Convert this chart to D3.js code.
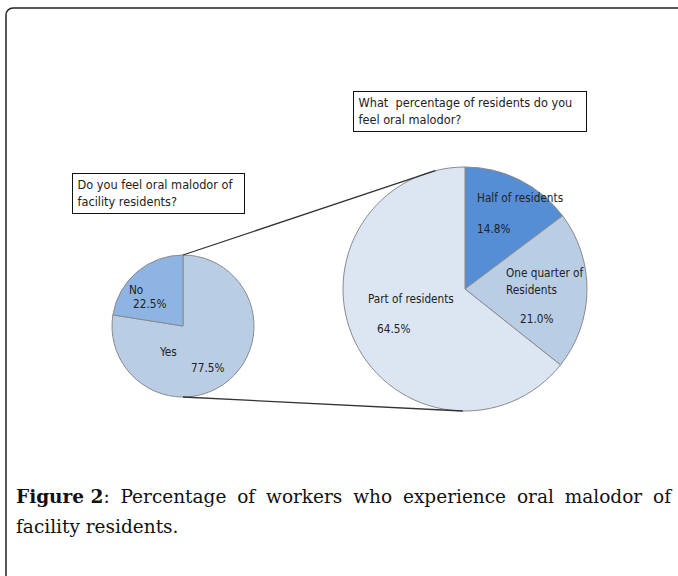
<!DOCTYPE html>
<html>
<head>
<meta charset="utf-8">
<script src="https://cdn.jsdelivr.net/npm/d3@7"></script>
<style>
  body { margin: 0; background: #fff; }
  .lbl { font-family: "DejaVu Sans Condensed", "DejaVu Sans", sans-serif; font-stretch: condensed; font-size: 11.7px; fill: #222; }
  .box { font-size: 12.6px; }
  .cap { font-family: "DejaVu Serif", serif; font-size: 18.5px; fill: #111; }
</style>
</head>
<body>
<div id="chart"></div>
<script>
// data
var outerCats = ["Yes", "No"];
var outerVals = [77.5, 22.5];
var innerCats = ["Half of residents", "One quarter of|Residents", "Part of residents"];
var innerVals = [14.8, 21.0, 64.5];
var outerTitle = ["Do you feel oral malodor of", "facility residents?"];
var innerTitle = ["What  percentage of residents do you", "feel oral malodor?"];

var svgWidth = 678, svgHeight = 576;

var svg = d3.select("#chart").append("svg")
  .attr("width", svgWidth)
  .attr("height", svgHeight);

// outer frame (runs off right + bottom)
svg.append("rect")
  .attr("x", 6).attr("y", 8)
  .attr("width", 700).attr("height", 600)
  .attr("rx", 7)
  .attr("fill", "none")
  .attr("stroke", "#222")
  .attr("stroke-width", 1.5);

var small = {cx: 183, cy: 326, r: 71, colors: ["#b9cde5", "#8eb4e3"]};
var big = {cx: 465, cy: 289, r: 122, colors: ["#558ed5", "#b9cde5", "#dce6f2"]};

var pie = d3.pie().sort(null).value(d => d);

function drawPie(cfg, vals) {
  var g = svg.append("g").attr("transform", `translate(${cfg.cx}, ${cfg.cy})`);
  var arc = d3.arc().innerRadius(0).outerRadius(cfg.r);
  g.selectAll("path")
    .data(pie(vals))
    .enter()
    .append("path")
    .attr("d", arc)
    .attr("fill", (d, i) => cfg.colors[i])
    .attr("stroke", "#8a8a8a")
    .attr("stroke-width", 1);
  return g;
}

var gSmall = drawPie(small, outerVals);
var gBig = drawPie(big, innerVals);

// connector lines between the pies
var topAng = -0.245, botAng = 3.16;
svg.append("line")
  .attr("x1", small.cx).attr("y1", small.cy - small.r)
  .attr("x2", big.cx + big.r * Math.sin(topAng)).attr("y2", big.cy - big.r * Math.cos(topAng))
  .attr("stroke", "#333").attr("stroke-width", 1.3);
svg.append("line")
  .attr("x1", small.cx).attr("y1", small.cy + small.r)
  .attr("x2", big.cx + big.r * Math.sin(botAng)).attr("y2", big.cy - big.r * Math.cos(botAng))
  .attr("stroke", "#333").attr("stroke-width", 1.3);

// slice labels: offsets from pie centre (layout only)
var smallLbl = [
  {dx: -23, dy: 30, pct: {dx: 8, dy: 46}},
  {dx: -54, dy: -32, pct: {dx: -50, dy: -18}}
];
outerCats.forEach(function(c, i) {
  var p = smallLbl[i];
  gSmall.append("text").attr("class", "lbl").attr("x", p.dx).attr("y", p.dy).text(c);
  gSmall.append("text").attr("class", "lbl").attr("x", p.pct.dx).attr("y", p.pct.dy)
    .text(outerVals[i].toFixed(1) + "%");
});

var bigLbl = [
  {dx: 12, dy: -87, pct: {dx: 12, dy: -56}},
  {dx: 41, dy: -12, pct: {dx: 55, dy: 34}},
  {dx: -97, dy: 14, pct: {dx: -88, dy: 44}}
];
innerCats.forEach(function(c, i) {
  var p = bigLbl[i];
  c.split("|").forEach(function(line, j) {
    gBig.append("text").attr("class", "lbl").attr("x", p.dx).attr("y", p.dy + j * 16.5).text(line);
  });
  gBig.append("text").attr("class", "lbl").attr("x", p.pct.dx).attr("y", p.pct.dy)
    .text(innerVals[i].toFixed(1) + "%");
});

// title boxes
function titleBox(x, y, w, h, lines) {
  svg.append("rect").attr("x", x).attr("y", y).attr("width", w).attr("height", h)
    .attr("fill", "#fff").attr("stroke", "#111").attr("stroke-width", 1);
  lines.forEach(function(t, i) {
    svg.append("text").attr("class", "lbl box")
      .attr("x", x + 5).attr("y", y + 15 + i * 17)
      .attr("xml:space", "preserve")
      .text(t);
  });
}
titleBox(72.5, 173.5, 172, 40, outerTitle);
titleBox(353.5, 91.5, 233, 40, innerTitle);

// caption, first line justified
var capLeft = 16, capRight = 671;
var words1 = ["Percentage", "of", "workers", "who", "experience", "oral", "malodor", "of"];
var capG = svg.append("g");
var head = capG.append("text").attr("class", "cap").attr("x", capLeft).attr("y", 503);
head.append("tspan").attr("font-weight", "bold").text("Figure 2");
head.append("tspan").text(":");
var items = [head].concat(words1.map(w => capG.append("text").attr("class", "cap").attr("y", 503).text(w)));
var widths = items.map(t => t.node().getComputedTextLength());
var gap = (capRight - capLeft - d3.sum(widths)) / (items.length - 1);
var xPos = capLeft;
items.forEach(function(t, i) {
  t.attr("x", xPos);
  xPos += widths[i] + gap;
});
capG.append("text").attr("class", "cap").attr("x", capLeft).attr("y", 533).text("facility residents.");
</script>
</body>
</html>
